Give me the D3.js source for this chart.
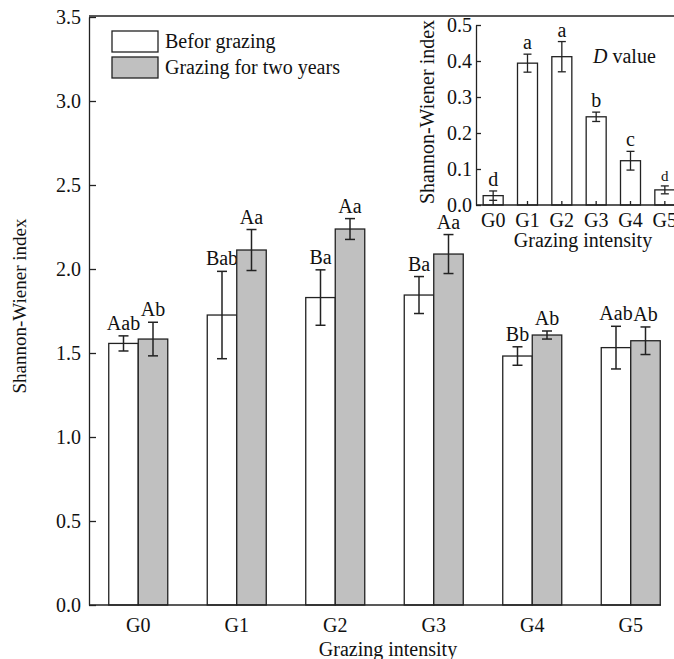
<!DOCTYPE html>
<html>
<head>
<meta charset="utf-8">
<style>
  body { margin: 0; background: #fff; }
  text { font-family: "Liberation Serif", "Times New Roman", serif; fill: #111; }
</style>
</head>
<body>
<svg width="674" height="659"></svg>
<script src="https://d3js.org/d3.v7.min.js"></script>
<script>
// main chart data
var groups = ["G0", "G1", "G2", "G3", "G4", "G5"];
var seriesNames = ["Befor grazing", "Grazing for two years"];
var before = [1.557, 1.726, 1.83, 1.845, 1.482, 1.532];
var beforeErr = [0.045, 0.26, 0.165, 0.11, 0.055, 0.127];
var after = [1.583, 2.113, 2.238, 2.089, 1.607, 1.573];
var afterErr = [0.1, 0.122, 0.062, 0.116, 0.024, 0.082];
var beforeLetters = ["Aab", "Bab", "Ba", "Ba", "Bb", "Aab"];
var afterLetters = ["Ab", "Aa", "Aa", "Aa", "Ab", "Ab"];
var yTicks = [0, 0.5, 1.0, 1.5, 2.0, 2.5, 3.0, 3.5];

// inset data (D value)
var dValue = [0.026, 0.394, 0.412, 0.245, 0.123, 0.042];
var dErr = [0.013, 0.025, 0.042, 0.013, 0.026, 0.011];
var dLetters = ["d", "a", "a", "b", "c", "d"];
var dTicks = [0, 0.1, 0.2, 0.3, 0.4, 0.5];

var svg = d3.select("svg");
var ink = "#222";

// ---------- main chart ----------
var x = d3.scaleBand().domain(groups).range([89, 680]);
var y = d3.scaleLinear().domain([0, 3.5]).range([605, 17]);
var barW = 29.5;

var series = [
  { vals: before, errs: beforeErr, letters: beforeLetters, fill: "#fff", off: -barW },
  { vals: after, errs: afterErr, letters: afterLetters, fill: "#c0c0c0", off: 0 }
];

var main = svg.append("g");

series.forEach(function(s) {
  var g = main.append("g");
  g.selectAll("rect").data(groups).enter().append("rect")
    .attr("x", function(d) { return x(d) + x.bandwidth() / 2 + s.off; })
    .attr("y", function(d, i) { return y(s.vals[i]); })
    .attr("width", barW)
    .attr("height", function(d, i) { return y(0) - y(s.vals[i]); })
    .attr("fill", s.fill)
    .attr("stroke", ink)
    .attr("stroke-width", 1.3);

  groups.forEach(function(d, i) {
    var cx = x(d) + x.bandwidth() / 2 + s.off + barW / 2;
    var top = y(s.vals[i] + s.errs[i]), bot = y(s.vals[i] - s.errs[i]);
    g.append("line").attr("x1", cx).attr("x2", cx).attr("y1", top).attr("y2", bot)
      .attr("stroke", ink).attr("stroke-width", 1.5);
    [top, bot].forEach(function(yy) {
      g.append("line").attr("x1", cx - 5).attr("x2", cx + 5).attr("y1", yy).attr("y2", yy)
        .attr("stroke", ink).attr("stroke-width", 1.5);
    });
    g.append("text").attr("x", cx).attr("y", top - 6)
      .attr("text-anchor", "middle").attr("font-size", 20).text(s.letters[i]);
  });
});

// axes
var yAxis = d3.axisLeft(y).tickValues(yTicks).tickFormat(d3.format(".1f"))
  .tickSizeInner(-7).tickSizeOuter(0).tickPadding(8);
var ya = main.append("g").attr("transform", "translate(89,0)").call(yAxis);
ya.selectAll("text").attr("font-size", 20).attr("font-family", "Liberation Serif");
ya.selectAll("path, line").attr("stroke", ink).attr("stroke-width", 1.3);

var xAxis = d3.axisBottom(x).tickSize(0).tickPadding(13);
var xa = main.append("g").attr("transform", "translate(0,605)").call(xAxis);
xa.select("path").attr("d", "M89,0H661").attr("stroke", ink).attr("stroke-width", 1.3);
xa.selectAll("text").attr("font-size", 20).attr("font-family", "Liberation Serif");

// top frame line
main.append("line").attr("x1", 89).attr("x2", 674).attr("y1", 16).attr("y2", 16)
  .attr("stroke", ink).attr("stroke-width", 1.3);

main.append("text").attr("x", 388).attr("y", 656).attr("text-anchor", "middle")
  .attr("font-size", 20).text("Grazing intensity");
main.append("text").attr("transform", "translate(26,306) rotate(-90)")
  .attr("text-anchor", "middle").attr("font-size", 19).text("Shannon-Wiener index");

// legend
var leg = main.append("g");
seriesNames.forEach(function(n, i) {
  leg.append("rect").attr("x", 112).attr("y", 31 + i * 26).attr("width", 46).attr("height", 21)
    .attr("fill", series[i].fill).attr("stroke", ink).attr("stroke-width", 1.3);
  leg.append("text").attr("x", 165).attr("y", 48 + i * 26).attr("font-size", 20).text(n);
});

// ---------- inset ----------
var ix = d3.scaleBand().domain(groups).range([476, 682]);
var iy = d3.scaleLinear().domain([0, 0.5]).range([205, 25]);
var ibw = 20;
var inset = svg.append("g");

inset.selectAll("rect").data(groups).enter().append("rect")
  .attr("x", function(d) { return ix(d) + ix.bandwidth() / 2 - ibw / 2; })
  .attr("y", function(d, i) { return iy(dValue[i]); })
  .attr("width", ibw)
  .attr("height", function(d, i) { return iy(0) - iy(dValue[i]); })
  .attr("fill", "#fff").attr("stroke", ink).attr("stroke-width", 1.3);

groups.forEach(function(d, i) {
  var cx = ix(d) + ix.bandwidth() / 2;
  var top = iy(dValue[i] + dErr[i]), bot = iy(dValue[i] - dErr[i]);
  inset.append("line").attr("x1", cx).attr("x2", cx).attr("y1", top).attr("y2", bot)
    .attr("stroke", ink).attr("stroke-width", 1.3);
  [top, bot].forEach(function(yy) {
    inset.append("line").attr("x1", cx - 4).attr("x2", cx + 4).attr("y1", yy).attr("y2", yy)
      .attr("stroke", ink).attr("stroke-width", 1.3);
  });
  inset.append("text").attr("x", cx).attr("y", top - 5).attr("text-anchor", "middle")
    .attr("font-size", i === 5 ? 15 : 20).text(dLetters[i]);
});

var iyAxis = d3.axisLeft(iy).tickValues(dTicks).tickFormat(d3.format(".1f"))
  .tickSizeInner(-5).tickSizeOuter(0).tickPadding(4);
var iya = inset.append("g").attr("transform", "translate(476,0)").call(iyAxis);
iya.selectAll("text").attr("font-size", 20).attr("font-family", "Liberation Serif");
iya.selectAll("path, line").attr("stroke", ink).attr("stroke-width", 1.3);

var ixAxis = d3.axisBottom(ix).tickSizeInner(-4).tickSizeOuter(0).tickPadding(8);
var ixa = inset.append("g").attr("transform", "translate(0,205)").call(ixAxis);
ixa.select("path").attr("d", "M476,0H674").attr("stroke", ink).attr("stroke-width", 1.3);
ixa.selectAll("line").attr("stroke", ink).attr("stroke-width", 1.3);
ixa.selectAll("text").attr("font-size", 20).attr("font-family", "Liberation Serif");

inset.append("text").attr("x", 583).attr("y", 247).attr("text-anchor", "middle")
  .attr("font-size", 20).text("Grazing intensity");
inset.append("text").attr("transform", "translate(434,112) rotate(-90)")
  .attr("text-anchor", "middle").attr("font-size", 20).text("Shannon-Wiener index");

var dv = inset.append("text").attr("x", 593).attr("y", 63).attr("font-size", 20);
dv.append("tspan").attr("font-style", "italic").text("D");
dv.append("tspan").text(" value");
</script>
</body>
</html>
